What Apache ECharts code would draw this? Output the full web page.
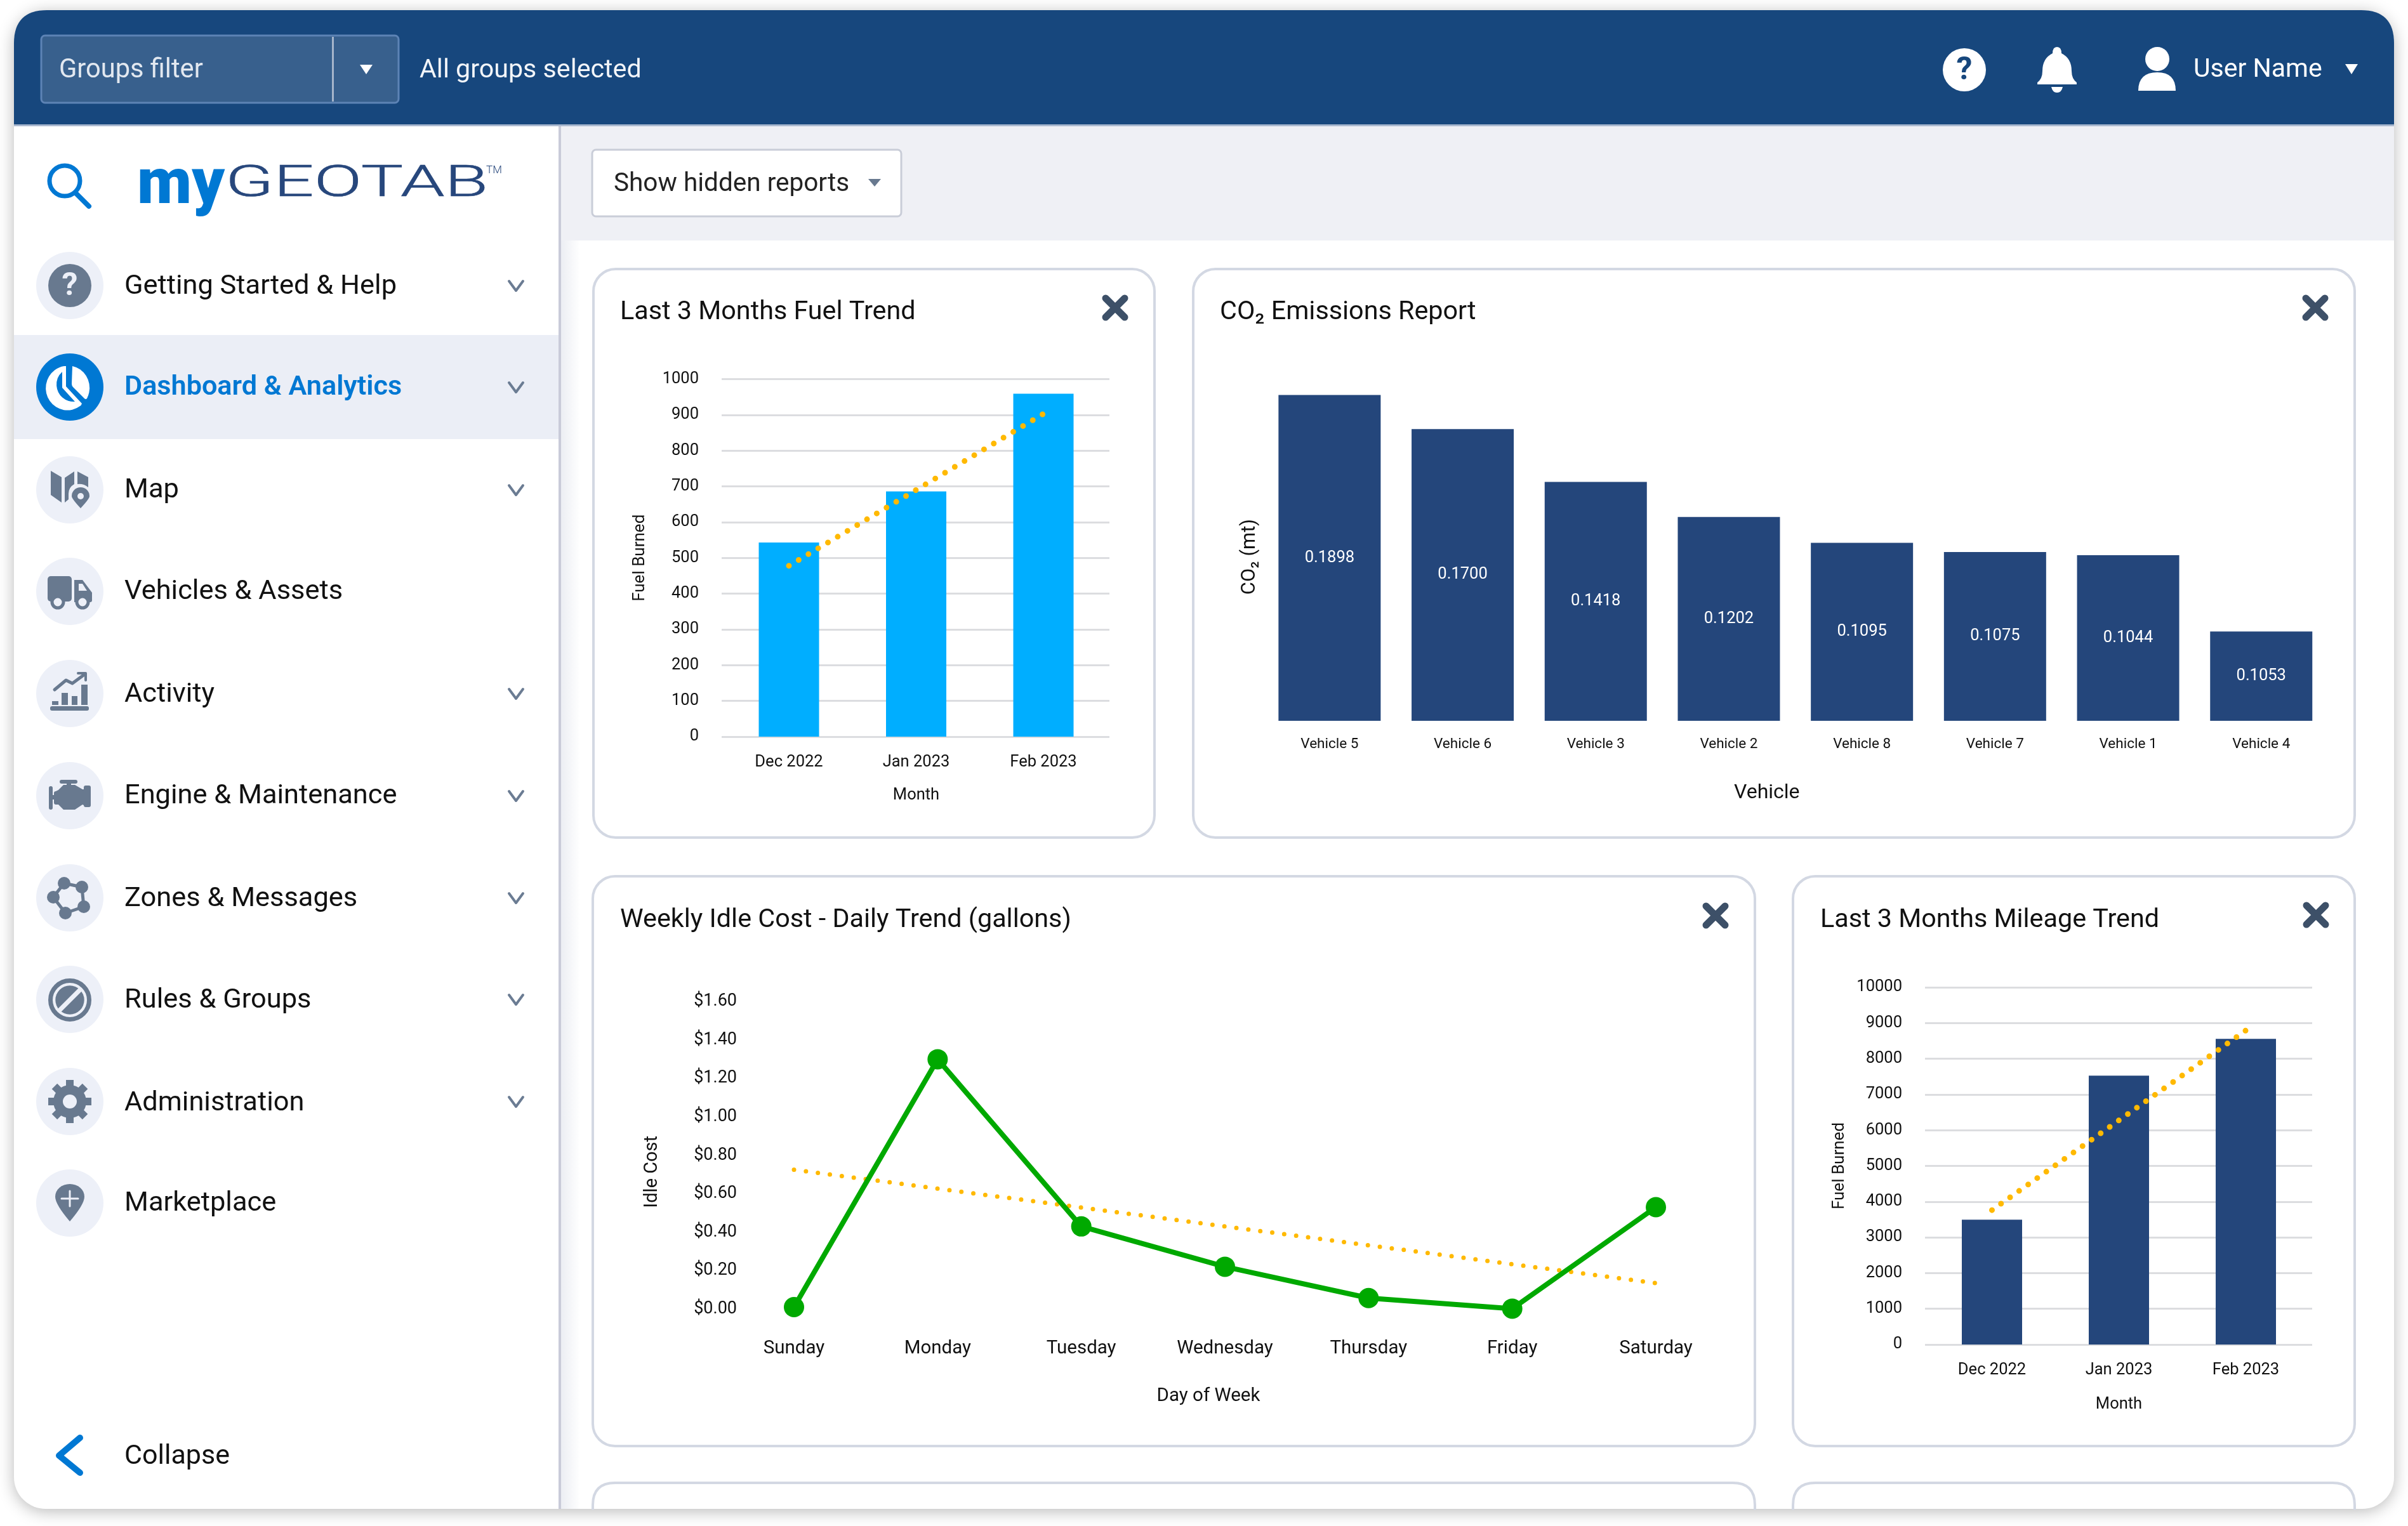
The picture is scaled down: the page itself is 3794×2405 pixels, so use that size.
<!DOCTYPE html>
<html><head><meta charset="utf-8">
<style>html,body{margin:0;padding:0;background:#fff}#c{width:3794px;height:2405px}</style>
<script src="https://cdn.jsdelivr.net/npm/echarts@6/dist/echarts.min.js"></script>
</head><body><div id="c"></div>
<script>
const months = ['Dec 2022', 'Jan 2023', 'Feb 2023'];
const fuelValues = [543, 686, 959];
const fuelTrend = [478, 690, 903];
const vehicles = ['Vehicle 5', 'Vehicle 6', 'Vehicle 3', 'Vehicle 2', 'Vehicle 8', 'Vehicle 7', 'Vehicle 1', 'Vehicle 4'];
const co2Bars = [0.1898, 0.1700, 0.1392, 0.1188, 0.1037, 0.0983, 0.0965, 0.0520];
const co2Labels = ['0.1898', '0.1700', '0.1418', '0.1202', '0.1095', '0.1075', '0.1044', '0.1053'];
const days = ['Sunday', 'Monday', 'Tuesday', 'Wednesday', 'Thursday', 'Friday', 'Saturday'];
const idleCost = [0.01, 1.30, 0.43, 0.22, 0.057, 0.002, 0.53];
const idleTrend = [0.725, null, null, null, null, null, 0.135];
const mileageValues = [3494, 7526, 8558];
const mileageTrend = [3763, 6275, 8792];
const navItems = ['Getting Started & Help', 'Dashboard & Analytics', 'Map', 'Vehicles & Assets', 'Activity', 'Engine & Maintenance', 'Zones & Messages', 'Rules & Groups', 'Administration', 'Marketplace'];

const FONT = 'Roboto';
const NAVY = '#24467b', SKY = '#00aeff', AMBER = '#ffb900', GREEN = '#00a900', BLUE = '#0078d3', ICON = '#68798f', ICONBG = '#edf0f8', GRID = '#dcdde0';
let pathId = 0;
const els = [];
function P(d, style) {
  const t = 'gp' + (pathId++);
  echarts.graphic.registerShape(t, echarts.graphic.extendPath(d));
  els.push({ type: t, silent: true, style: style });
}
const fillS = c => ({ fill: c });
const lineS = (c, w) => ({ fill: 'none', stroke: c, lineWidth: w, lineCap: 'round', lineJoin: 'round' });
function T(text, x, y, size, color, extra) {
  els.push({ type: 'text', silent: true, x, y, style: Object.assign({ text, font: `${(extra && extra.w) || 400} ${size}px ${FONT}`, fill: color, verticalAlign: 'middle', align: 'left' }, extra && extra.s) });
}
function R(x, y, w, h, r, style) { els.push({ type: 'rect', silent: true, shape: { x, y, width: w, height: h, r }, style }); }
function C(cx, cy, r, style) { els.push({ type: 'circle', silent: true, shape: { cx, cy, r }, style }); }

// ---- window chrome
R(22, 16, 3750, 2362, 50, { fill: '#fff', shadowBlur: 26, shadowColor: 'rgba(0,0,0,0.28)', shadowOffsetY: 4 });
P('M22,197 L22,68 Q22,16 74,16 L3720,16 Q3772,16 3772,68 L3772,197 Z', fillS('#17477d'));
R(22, 196, 3750, 3, 0, fillS('#a9b8cf'));
R(884, 199, 2888, 180, 0, fillS('#eff0f5'));
els.push({ type: 'rect', silent: true, shape: { x: 884, y: 379, width: 30, height: 1999 }, style: { fill: new echarts.graphic.LinearGradient(0, 0, 1, 0, [{ offset: 0, color: '#eceef3' }, { offset: 1, color: '#ffffff' }]) } });
R(880, 199, 4, 2179, 0, fillS('#c9cbd9'));
// top bar
R(65, 56, 563, 106, 6, { fill: '#38608d', stroke: '#5d83b5', lineWidth: 3 });
R(523, 58, 3, 102, 0, fillS('#a5b5cb'));
T('Groups filter', 93, 112, 41.6, '#e2e8f0');
P('M567,102 L587,102 L577,117 Z', fillS('#fff'));
T('All groups selected', 661, 112, 41.2, '#f2f5f9');
C(3095, 110, 34, fillS('#fff'));
T('?', 3095, 112, 50, '#17477d', { w: 700, s: { align: 'center' } });
P('M3241,74 Q3248,74 3248,84 Q3264,92 3264,112 Q3264,124 3272,130 L3272,133 L3210,133 L3210,130 Q3218,124 3218,112 Q3218,92 3234,84 Q3234,74 3241,74 Z M3232,137 L3250,137 Q3248,146 3241,146 Q3234,146 3232,137 Z', fillS('#fff'));
C(3399, 93, 19, fillS('#fff'));
P('M3369,143 Q3369,114 3399,114 Q3428,114 3428,143 Z', fillS('#fff'));
T('User Name', 3456, 111, 41, '#fff');
P('M3695,101 L3715,101 L3705,117 Z', fillS('#fff'));
// search + logo
C(102, 285, 24, lineS(BLUE, 7));
P('M120,305 L140,325', lineS(BLUE, 8));
T('my', 216, 295, 100, BLUE, { w: 900 });
els.push({ type: 'text', silent: true, x: 355, y: 292, scaleX: 1.64, style: { text: 'GEOTAB', font: `300 68px ${FONT}`, fill: '#27477c', stroke: '#27477c', lineWidth: 0.6, verticalAlign: 'middle', align: 'left' } });
T('TM', 766, 269, 17, '#27477c', { w: 300 });
// show hidden reports
R(933, 236, 487, 105, 6, { fill: '#fff', stroke: '#c9cdd8', lineWidth: 3 });
T('Show hidden reports', 967, 291, 40.5, '#222');
P('M1368,282 L1388,282 L1378,294 Z', fillS('#68798f'));
// sidebar
R(22, 528, 858, 164, 0, fillS('#ebeef6'));
const navTextY = [449, 608, 770, 930, 1092, 1252, 1414, 1574, 1736, 1894];
const navIconY = [450, 610, 772, 932, 1093, 1254, 1415, 1575, 1736, 1896];
const noChevron = new Set([3, 9]);
navItems.forEach((name, i) => {
  const sel = i === 1;
  C(110, navIconY[i], 53, fillS(sel ? BLUE : ICONBG));
  T(name, 196, navTextY[i] + 3, sel ? 43.2 : 43.4, sel ? BLUE : '#111', { w: sel ? 600 : 400 });
  if (!noChevron.has(i)) {
    const cy = navIconY[i];
    P(`M802,${cy - 7} L813,${cy + 8} L824,${cy - 7}`, lineS('#6b7c93', 4));
  }
});
// icon 0: help
C(110, 450, 34, fillS(ICON));
T('?', 110, 452, 50, ICONBG, { w: 700, s: { align: 'center' } });
// icon 1: dashboard
P('M114,577 A34,35 0 0 1 137,628 Q135,630 133,628 L115,610 Q113,608 113,605 Z', fillS('#fff'));
P('M104,577 L104,609 L129,636 Q128,639 126,640 A34,35 0 1 1 101,577 Z', fillS('#fff'));
P('M98,586 L98,611 L118,633 A27,27 0 0 1 98,586 Z', fillS(BLUE));
// icon 2: map
P('M80,742 L97,752 L97,792 L80,780 Z M102,753 L117,743 L117,763 Q108,768 108,778 L108,787 L102,792 Z M122,743 L139,752 L139,768 Q132,762 122,763 Z', fillS(ICON));
P('M127,801 Q113,786 113,782 A14,14 0 1 1 141,782 Q141,786 127,801 Z', { fill: ICON });
C(127, 782, 5, fillS(ICONBG));
// icon 3: truck
R(75, 908, 38, 40, 5, fillS(ICON));
P('M117,914 L130,914 L145,934 L145,946 Q145,949 142,949 L117,949 Z', fillS(ICON));
P('M124,920 L130,920 L137,931 L124,931 Z', fillS(ICONBG));
C(91, 949, 9, { fill: ICONBG, stroke: ICON, lineWidth: 5 });
C(130, 949, 9, { fill: ICONBG, stroke: ICON, lineWidth: 5 });
// icon 4: activity
R(79, 1113, 61, 7, 3, fillS(ICON));
R(82, 1105, 10, 6, 0, fillS(ICON));
R(97, 1092, 10, 19, 0, fillS(ICON));
R(113, 1097, 9, 14, 0, fillS(ICON));
R(128, 1079, 10, 32, 0, fillS(ICON));
P('M86,1087 L104,1072 L114,1077 L133,1063', lineS(ICON, 5));
P('M123,1061 L135,1061 L135,1072', lineS(ICON, 4));
// icon 5: engine
R(77, 1239, 6, 37, 3, fillS(ICON));
R(82, 1253, 5, 7, 0, fillS(ICON));
R(94, 1229, 28, 6, 3, fillS(ICON));
R(105, 1233, 7, 6, 0, fillS(ICON));
P('M85,1250 Q85,1247 88,1247 L92,1245 L100,1237 L118,1237 L130,1244 L132,1244 L132,1241 Q132,1238 135,1238 L140,1238 Q143,1238 143,1241 L143,1269 Q143,1272 140,1272 L135,1272 Q132,1272 132,1269 L130,1268 L118,1276 L100,1276 L92,1268 L88,1268 Q85,1268 85,1265 Z', fillS(ICON));
// icon 6: zones
P('M101,1392 L129,1398 L132,1429 L103,1439 L84,1414 Z', lineS(ICON, 5));
[[101, 1392], [129, 1398], [132, 1429], [103, 1439], [84, 1414]].forEach(p => C(p[0], p[1], 10, fillS(ICON)));
// icon 7: rules
C(110, 1576, 30.5, { fill: 'none', stroke: ICON, lineWidth: 7 });
C(110, 1576, 22.7, fillS(ICON));
P('M92,1594 L128,1558', { fill: 'none', stroke: ICONBG, lineWidth: 7 });
// icon 8: gear
[0, 45, 90, 135].forEach(a => {
  const r = a * Math.PI / 180, dx = 34 * Math.cos(r), dy = 34 * Math.sin(r);
  P(`M${110 - dx},${1736 - dy} L${110 + dx},${1736 + dy}`, { fill: 'none', stroke: ICON, lineWidth: 12, lineCap: 'butt' });
});
C(110, 1736, 26, fillS(ICON));
C(110, 1736, 11, fillS(ICONBG));
// icon 9: marketplace
P('M110,1925 Q87,1898 87,1886 A23,20 0 1 1 133,1886 Q133,1898 110,1925 Z', fillS(ICON));
P('M110,1877 L110,1901 M97,1889 L123,1889', lineS(ICONBG, 3));
// collapse
P('M126,2266 L93,2294 L126,2321', lineS(BLUE, 10));
T('Collapse', 196, 2296, 43, '#111');

// ---- cards
function card(x, y, w, h, cx, cy) {
  R(x, y, w, h, 35, { fill: '#fff', stroke: '#d3d8e3', lineWidth: 4 });
  P(`M${cx - 15},${cy - 15} L${cx + 15},${cy + 15} M${cx + 15},${cy - 15} L${cx - 15},${cy + 15}`, lineS('#3d5068', 11));
}
card(935, 424, 884, 896, 1757, 485);
card(1880, 424, 1830, 896, 3648, 485);
card(934, 1381, 1831, 898, 2703, 1443);
card(2825, 1381, 885, 898, 3649, 1442);
P('M934,2378 L934,2372 Q934,2337 969,2337 L2730,2337 Q2765,2337 2765,2372 L2765,2378', lineS('#d3d8e3', 4));
P('M2825,2378 L2825,2372 Q2825,2337 2860,2337 L3675,2337 Q3710,2337 3710,2372 L3710,2378', lineS('#d3d8e3', 4));

// ---- charts
const ink = '#111';
function title(text, left, top) {
  return { text, left, top, textStyle: { fontFamily: FONT, fontSize: 41.3, fontWeight: 400, color: '#111' } };
}
const grids = [
  { left: 1142.75, top: 597.5, width: 601.5, height: 563.5 },
  { left: 1990, top: 595, width: 1677.6, height: 541 },
  { left: 1251, top: 1578.6, width: 1358, height: 484.4 },
  { left: 3038.5, top: 1556, width: 600, height: 563 },
  { left: 1137, top: 597.5, width: 611, height: 563.5 },
  { left: 3033, top: 1556, width: 610, height: 563 }
];
function xAx(gi, data, o) {
  return Object.assign({
    type: 'category', gridIndex: gi, data, z: 10,
    axisLine: { show: false }, axisTick: { show: false },
    axisLabel: { fontFamily: FONT, fontSize: o.fs, color: ink, margin: o.margin, interval: 0 },
    name: o.name, nameLocation: 'middle', nameGap: o.gap,
    nameTextStyle: { fontFamily: FONT, fontSize: o.nfs || o.fs, color: ink, padding: o.pad || 0 }
  }, o.boundary === false ? { boundaryGap: false } : {});
}
function yAx(gi, o) {
  return {
    type: 'value', gridIndex: gi, min: 0, max: o.max, interval: o.interval, z: 10,
    axisLine: { show: false }, axisTick: { show: false },
    splitLine: { show: !!o.split, lineStyle: { color: GRID, width: 3 } },
    axisLabel: { show: o.labels !== false, fontFamily: FONT, fontSize: o.fs, color: ink, margin: o.margin, padding: o.lpad || 0, formatter: o.fmt || (v => String(v)) },
    name: o.name, nameLocation: 'middle', nameGap: o.gap, nameRotate: 90,
    nameTextStyle: { fontFamily: FONT, fontSize: o.nfs || o.fs, color: ink, padding: o.pad || 0 }
  };
}
const hiddenY = (gi, max) => ({ type: 'value', gridIndex: gi, min: 0, max, show: false, splitLine: { show: false } });
const trendStyle = (w, gap) => ({ color: AMBER, width: w, type: [0, gap], cap: 'round' });
const option = {
  animation: false,
  backgroundColor: '#fff',
  textStyle: { fontFamily: FONT },
  title: [
    title('Last 3 Months Fuel Trend', 972, 467),
    title('CO\u2082 Emissions Report', 1917, 467),
    title('Weekly Idle Cost - Daily Trend (gallons)', 972, 1425),
    title('Last 3 Months Mileage Trend', 2863, 1425)
  ],
  grid: grids,
  xAxis: [
    xAx(0, months, { fs: 25.5, margin: 28, name: 'Month', gap: 80 }),
    xAx(1, vehicles, { fs: 22.5, margin: 26, name: 'Vehicle', nfs: 32, gap: 98, pad: [0, 90, 0, 0] }),
    xAx(2, days, { fs: 29.5, margin: 48, name: 'Day of Week', gap: 123, pad: [0, 52, 0, 0], boundary: false }),
    xAx(3, months, { fs: 25.5, margin: 28, name: 'Month', gap: 82 }),
    { type: 'category', gridIndex: 4, data: months, show: false },
    { type: 'category', gridIndex: 5, data: months, show: false }
  ],
  yAxis: [
    hiddenY(0, 1000),
    yAx(1, { max: 0.2, labels: false, fs: 31, name: 'CO\u2082 (mt)', gap: 5, pad: [0, 24, 0, 0] }),
    yAx(2, { max: 1.6, interval: 0.2, fs: 27, margin: 90, lpad: [12, 0, 0, 0], name: 'Idle Cost', nfs: 29, gap: 209, pad: [0, 52, 0, 0], fmt: v => '$' + v.toFixed(2) }),
    hiddenY(3, 10000),
    yAx(4, { max: 1000, interval: 100, split: true, fs: 25.5, margin: 36, lpad: [6, 0, 0, 0], name: 'Fuel Burned', nfs: 26, gap: 116 }),
    yAx(5, { max: 10000, interval: 1000, split: true, fs: 25.5, margin: 36, lpad: [6, 0, 0, 0], name: 'Fuel Burned', nfs: 26, gap: 122 })
  ],
  series: [
    { type: 'bar', name: 'Fuel Burned', xAxisIndex: 0, yAxisIndex: 0, data: fuelValues, barWidth: 95, itemStyle: { color: SKY }, z: 12 },
    { type: 'line', name: 'Fuel trend', xAxisIndex: 0, yAxisIndex: 0, data: fuelTrend, showSymbol: false, lineStyle: trendStyle(9, 17.9), z: 13 },
    { type: 'bar', name: 'CO2', xAxisIndex: 1, yAxisIndex: 1, data: co2Bars, barWidth: 161, itemStyle: { color: NAVY }, z: 12,
      label: { show: true, position: 'inside', fontFamily: FONT, fontSize: 25.5, color: '#fff', formatter: p => co2Labels[p.dataIndex] } },
    { type: 'line', name: 'Idle trend', xAxisIndex: 2, yAxisIndex: 2, data: idleTrend, connectNulls: true, showSymbol: false, lineStyle: trendStyle(7, 19), z: 12 },
    { type: 'line', name: 'Idle Cost', xAxisIndex: 2, yAxisIndex: 2, data: idleCost, symbol: 'circle', symbolSize: 32, showSymbol: true, lineStyle: { color: GREEN, width: 8 }, itemStyle: { color: GREEN }, z: 13 },
    { type: 'bar', name: 'Mileage', xAxisIndex: 3, yAxisIndex: 3, data: mileageValues, barWidth: 95, itemStyle: { color: NAVY }, z: 12 },
    { type: 'line', name: 'Mileage trend', xAxisIndex: 3, yAxisIndex: 3, data: mileageTrend, showSymbol: false, lineStyle: trendStyle(9, 17.48), z: 13 }
  ],
  graphic: { elements: els }
};
const chart = echarts.init(document.getElementById('c'), null, { width: 3794, height: 2405, renderer: 'canvas' });
chart.setOption(option);
</script></body></html>
